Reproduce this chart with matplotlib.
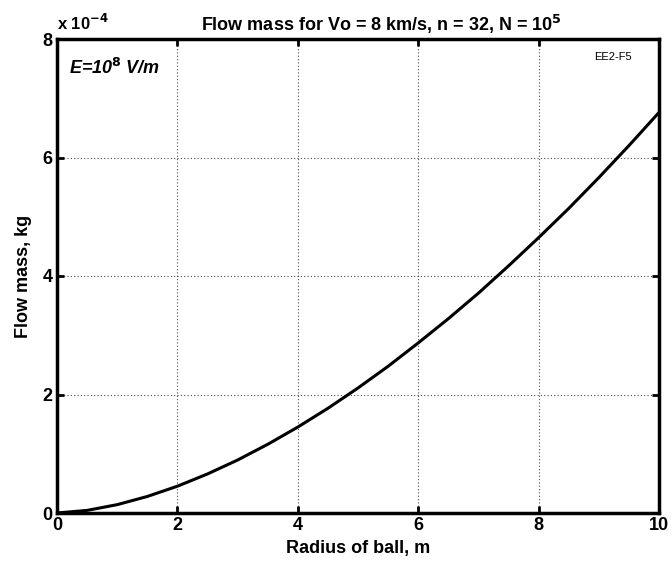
import numpy as np
import matplotlib
matplotlib.use("Agg")
import matplotlib.pyplot as plt

# radius of ball (m) and flow mass (x 1e-4 kg)
radius = [0.0, 0.5, 1.0, 1.5, 2.0, 2.5, 3.0, 3.5, 4.0, 4.5, 5.0,
          5.5, 6.0, 6.5, 7.0, 7.5, 8.0, 8.5, 9.0, 9.5, 10.0]
mass = [0.0, 0.044, 0.141, 0.279, 0.452, 0.659, 0.894, 1.159, 1.450, 1.767, 2.110,
        2.476, 2.870, 3.279, 3.710, 4.170, 4.647, 5.140, 5.660, 6.200, 6.760]

xticks = [0, 2, 4, 6, 8, 10]
yticks = [0, 2, 4, 6, 8]

plt.rcParams['font.family'] = ['Liberation Sans', 'DejaVu Sans']

fig = plt.figure(figsize=(6.72, 5.63), dpi=100)
ax = fig.add_axes([57/672, 50/563, 602/672, 474/563])

ax.plot(radius, mass, color="k", linewidth=2.2)

ax.set_xlim(0, 10)
ax.set_ylim(0, 8)
ax.set_xticks(xticks)
ax.set_yticks(yticks)
ax.tick_params(direction="in", length=5, width=2, labelsize=13, pad=3,
               top=True, right=True)
for lab in ax.get_xticklabels() + ax.get_yticklabels():
    lab.set_fontweight("bold")
for sp in ax.spines.values():
    sp.set_linewidth(2.5)

ax.grid(True, color="k", linestyle=(0, (1, 2)), linewidth=0.8, alpha=0.7)

ax.set_xlabel("Radius of ball, m", fontsize=13, fontweight="bold", labelpad=4)
ax.set_ylabel("Flow mass, kg", fontsize=13, fontweight="bold", labelpad=8)
ax.set_title("Flow mass for Vo = 8 km/s, n = 32, N = 10$^{\\mathbf{5}}$",
             fontsize=13, fontweight="bold", pad=6, x=0.538)

ax.text(0.0, 1.012, "x 10$^{\\mathbf{-4}}$", transform=ax.transAxes,
        fontsize=12, fontweight="bold", ha="left", va="bottom")
ax.text(0.02, 0.96, "E=10$^{\\mathbf{8}}$ V/m", transform=ax.transAxes,
        fontsize=13, fontweight="bold", style="italic", ha="left", va="top")
ax.text(0.955, 0.972, "EE2-F5", transform=ax.transAxes,
        fontsize=8, ha="right", va="top")

fig.savefig("out.png", dpi=100)
